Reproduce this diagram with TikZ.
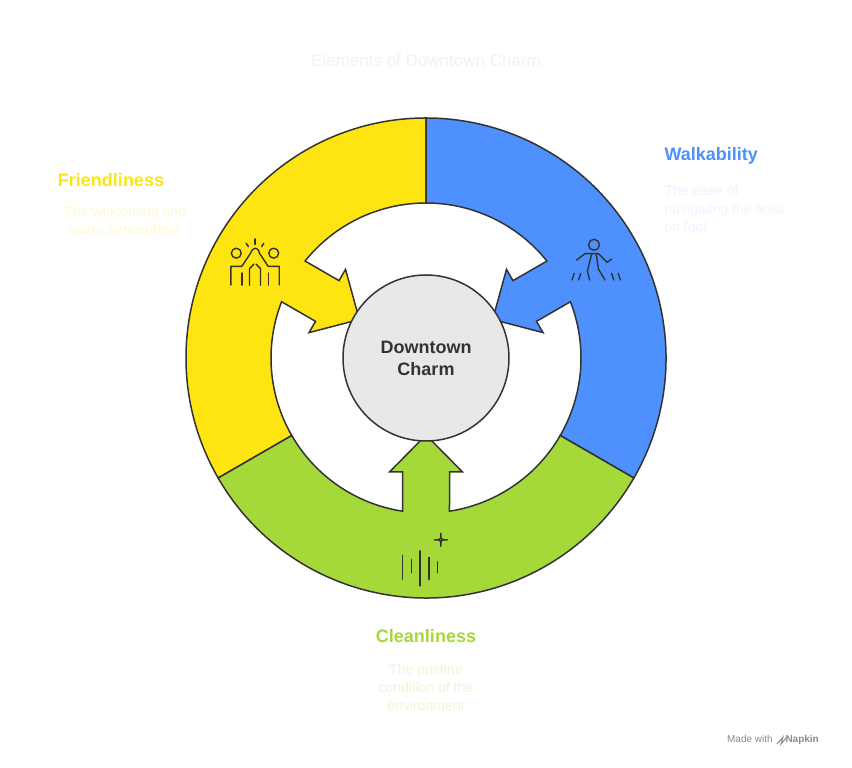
\documentclass[tikz,border=0pt]{standalone}
\usepackage{fontspec}
\setmainfont{Liberation Sans}
\begin{document}
\begin{tikzpicture}[x=1pt,y=1pt,
  seg/.style={draw=black!80,line width=1.5pt,line join=miter},
  ico/.style={draw=black!80,line width=1.4pt,line cap=round,line join=round},
  lab/.style={font=\bfseries\fontsize{18}{20}\selectfont},
  desc/.style={font=\fontsize{14}{18}\selectfont,align=center}]
\useasboundingbox[fill=white] (0,0) rectangle (852,768);
\definecolor{cy}{HTML}{FEE512}
\definecolor{cb}{HTML}{4D90FE}
\definecolor{cg}{HTML}{A5D93A}
\coordinate (c) at (426,410);
\newcommand{\segpath}{(-60:240) arc[start angle=-60,end angle=60,radius=240] -- (60:155) arc[start angle=60,end angle=8.72,radius=155] -- (114,23.5) -- (114,36.5) -- (77,0) -- (114,-36.5) -- (114,-23.5) -- (-8.72:155) arc[start angle=-8.72,end angle=-60,radius=155] -- cycle}
\begin{scope}[shift={(c)},rotate=150]
\path[seg,fill=cy] \segpath;
\end{scope}
\begin{scope}[shift={(c)},rotate=30]
\path[seg,fill=cb] \segpath;
\end{scope}
\begin{scope}[shift={(c)},rotate=270]
\path[seg,fill=cg] \segpath;
\end{scope}
\node[circle,draw=black!80,line width=1.5pt,fill=black!9,minimum size=166pt,inner sep=0pt,text=black!80,
  font=\bfseries\fontsize{18}{22}\selectfont,align=center] (hub) at (c) {Downtown\\Charm};
% titles
\node (title) at (426,708) {\fontsize{17}{20}\selectfont\color{black!5}Elements of Downtown Charm};
\node[lab,text=cy] (fl) at (111,588) {Friendliness};
\node[desc,text=cy!20] (fd) at (125,546) {The welcoming and\\warm atmosphere};
\node[lab,text=cb,anchor=west] (wl) at (661,612) {Walkability};
\node[desc,text=cb!10,anchor=north west,align=left] (wd) at (661,586) {The ease of\\navigating the area\\on foot};
\node[lab,text=cg] (cl) at (426,132) {Cleanliness};
\node[desc,text=cg!20] (cd) at (426,80) {The pristine\\condition of the\\environment};
\node[text=black!45,font=\fontsize{10}{12}\selectfont] (mw) at (773,28) {Made with \hspace{10pt}\textbf{Napkin}};
\draw[black!45,line width=1pt] (777,24) -- (783,31) -- (781,24) -- (787,31);
% friendliness icon
\begin{scope}[shift={(255,506)},scale=1.1]
\draw[ico] (-17,8) circle (4.5); \draw[ico] (17,8) circle (4.5);
\draw[ico] (-22,-21) -- (-22,-4) -- (-12,-4) -- (-4,8) .. controls (-2,14) and (3,14) .. (4,8) -- (12,-4) -- (22,-4) -- (22,-21);
\draw[ico] (-12,-21) -- (-12,-10); \draw[ico] (12,-21) -- (12,-10);
\draw[ico] (-5,-21) -- (-5,-6) -- (-1,-2); \draw[ico] (5,-21) -- (5,-6) -- (1,-2);
\draw[ico] (0,16) -- (0,21); \draw[ico] (-6,14) -- (-8,17); \draw[ico] (6,14) -- (8,17);
\end{scope}
% walker icon
\begin{scope}[shift={(594,510)},scale=1.1]
\draw[ico] (0,12) circle (5);
\draw[ico] (-16,-2) -- (-8,4) -- (4,4) -- (12,-4) -- (16,-1);
\draw[ico] (-2,4) -- (-6,-12) -- (-4,-20); \draw[ico] (2,4) -- (4,-10) -- (10,-20);
\draw[ico] (-20,-20) -- (-18,-14); \draw[ico] (-14,-20) -- (-12,-14);
\draw[ico] (18,-20) -- (16,-14); \draw[ico] (24,-20) -- (22,-14);
\end{scope}
% cleanliness icon
\begin{scope}[shift={(420,204)},scale=1.1]
\draw[ico] (-16,-14) -- (-16,8); \draw[ico] (-8,-8) -- (-8,4);
\draw[ico] (0,-20) -- (0,12); \draw[ico] (8,-14) -- (8,6); \draw[ico] (16,-8) -- (16,2);
\draw[ico] (19,28) .. controls (19,22) .. (25,22) .. controls (19,22) .. (19,16) .. controls (19,22) .. (13,22) .. controls (19,22) .. (19,28);
\end{scope}
\end{tikzpicture}
\end{document}
